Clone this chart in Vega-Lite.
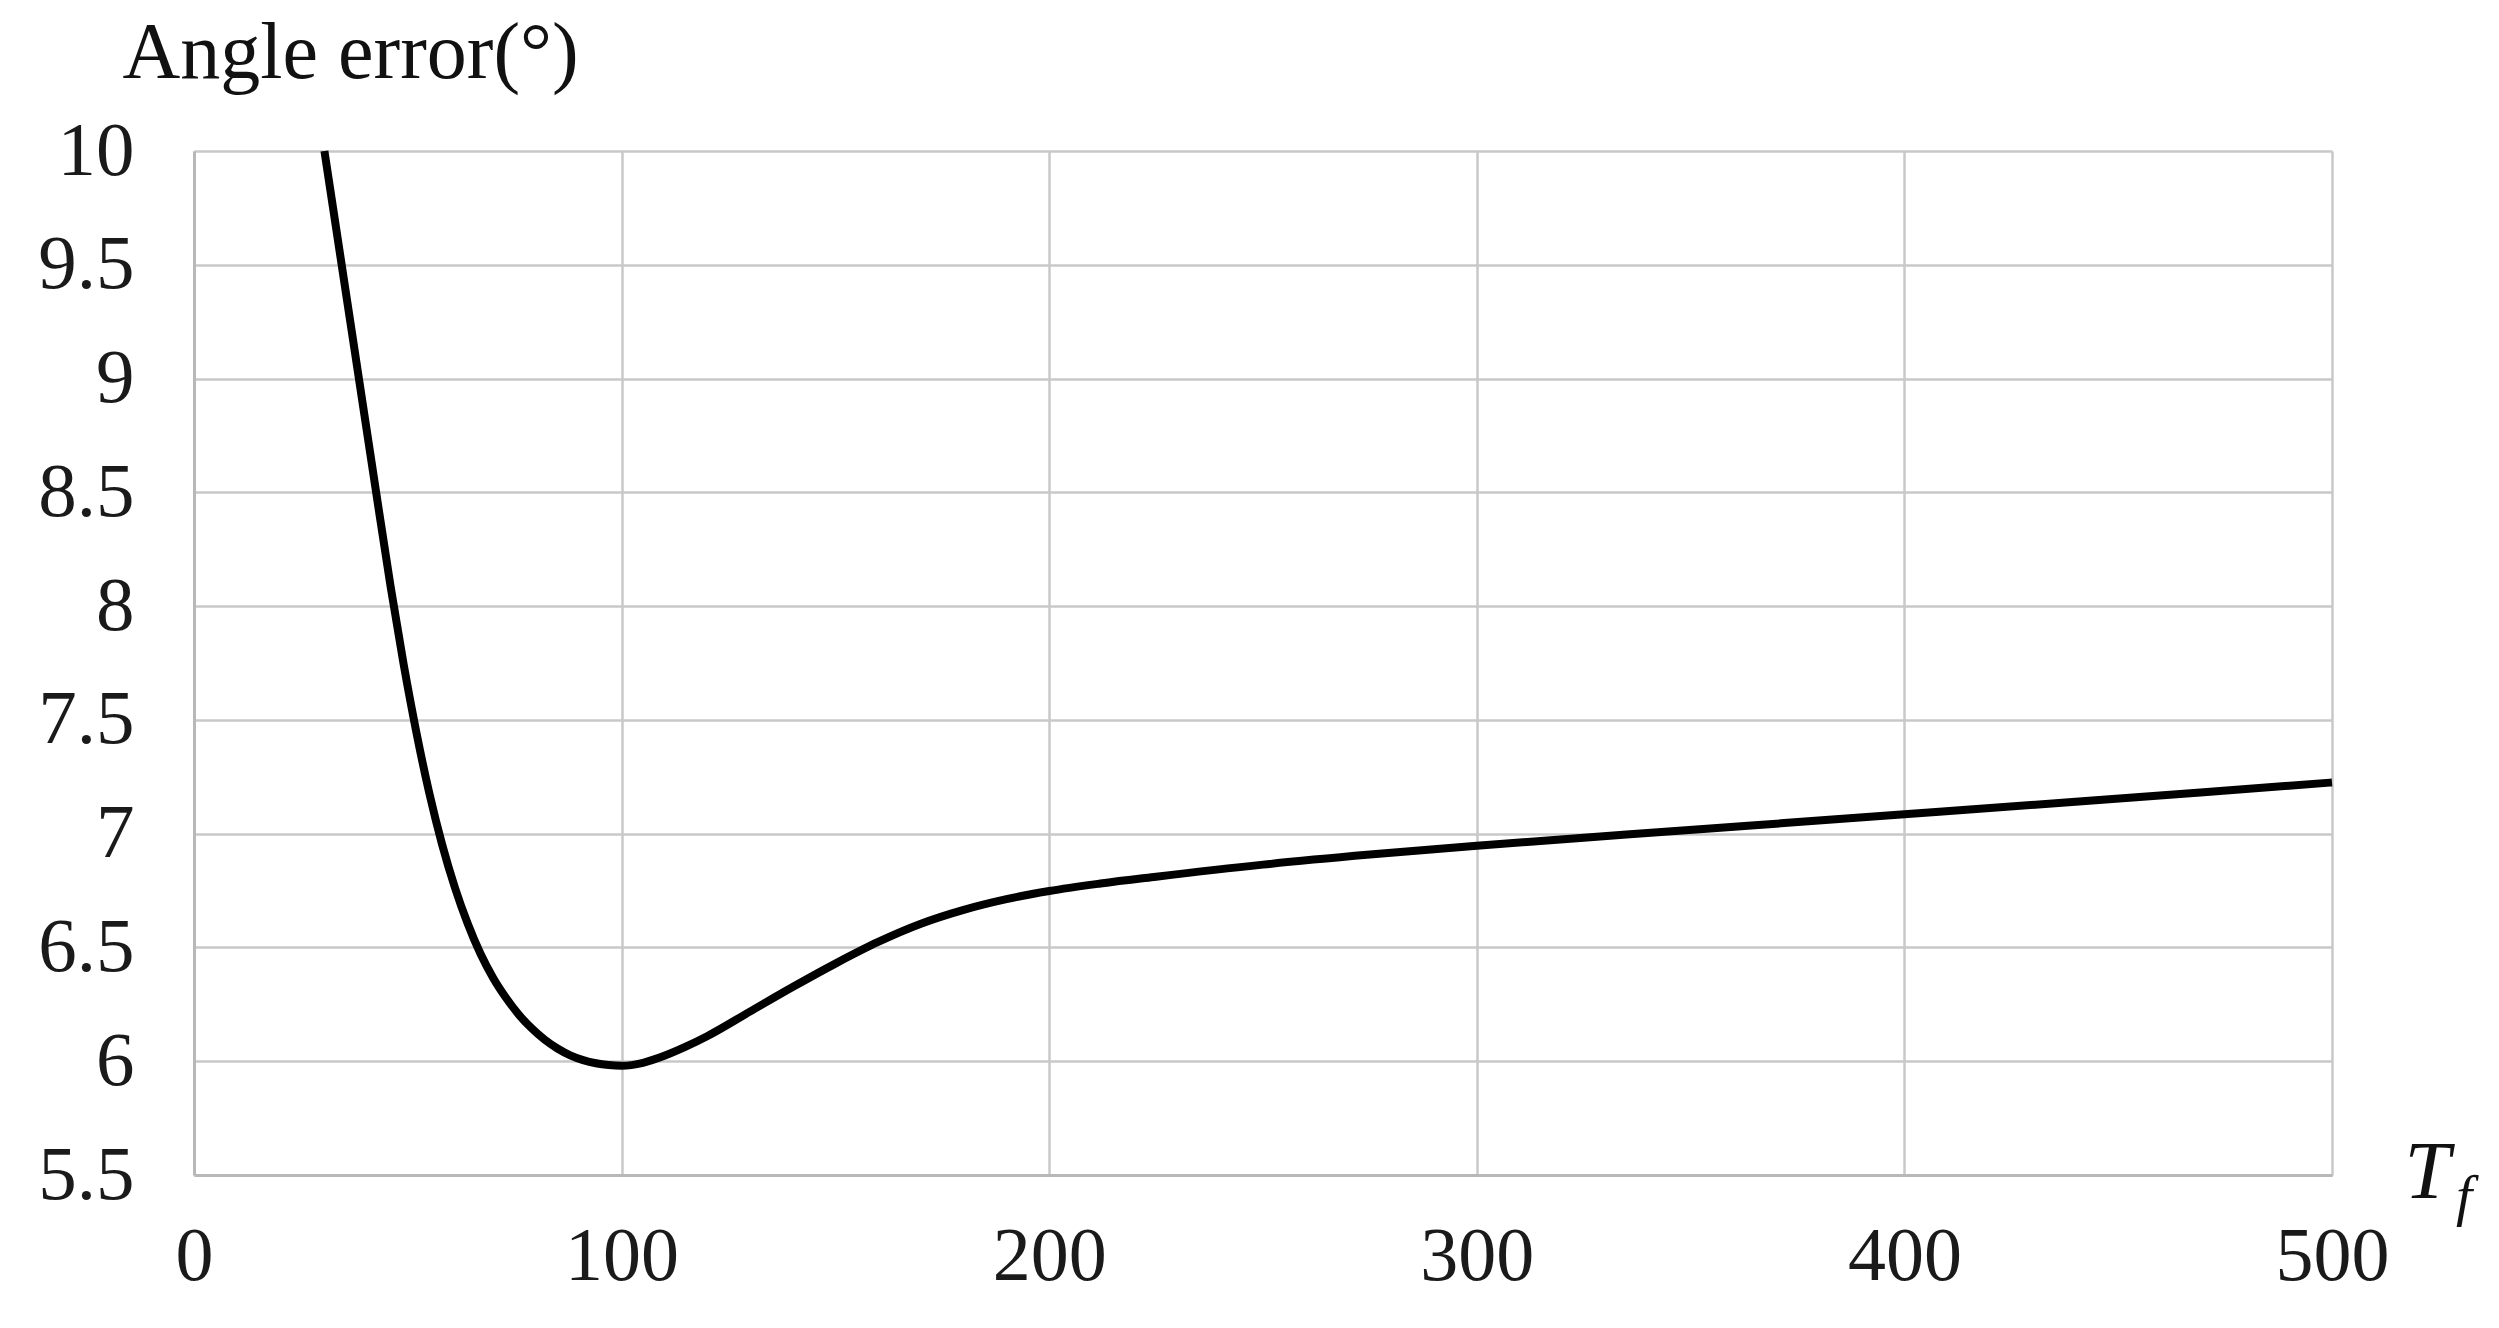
{
  "$schema": "https://vega.github.io/schema/vega-lite/v6.json",
  "autosize": {"type": "none"},
  "width": 2138,
  "height": 1024,
  "padding": {"left": 194, "top": 151, "right": 167, "bottom": 153},
  "background": "white",
  "config": {
    "view": {"stroke": null},
    "font": "Liberation Serif"
  },
  "layer": [
    {
      "data": {
        "values": [
          {"Tf": 30.5, "err": 10.0},
          {"Tf": 34.5, "err": 9.504},
          {"Tf": 38.5, "err": 9.008},
          {"Tf": 42.5, "err": 8.512},
          {"Tf": 46, "err": 8.083},
          {"Tf": 49, "err": 7.747},
          {"Tf": 52, "err": 7.446},
          {"Tf": 55, "err": 7.18},
          {"Tf": 58, "err": 6.954},
          {"Tf": 61, "err": 6.764},
          {"Tf": 64, "err": 6.605},
          {"Tf": 67, "err": 6.472},
          {"Tf": 70, "err": 6.365},
          {"Tf": 73, "err": 6.278},
          {"Tf": 76, "err": 6.204},
          {"Tf": 79, "err": 6.144},
          {"Tf": 82, "err": 6.095},
          {"Tf": 85, "err": 6.056},
          {"Tf": 88, "err": 6.026},
          {"Tf": 91, "err": 6.005},
          {"Tf": 94, "err": 5.991},
          {"Tf": 97, "err": 5.983},
          {"Tf": 100, "err": 5.98},
          {"Tf": 105, "err": 5.993},
          {"Tf": 110, "err": 6.024},
          {"Tf": 115, "err": 6.064},
          {"Tf": 120, "err": 6.11},
          {"Tf": 130, "err": 6.218},
          {"Tf": 140, "err": 6.326},
          {"Tf": 150, "err": 6.429},
          {"Tf": 160, "err": 6.524},
          {"Tf": 170, "err": 6.604},
          {"Tf": 180, "err": 6.665},
          {"Tf": 190, "err": 6.712},
          {"Tf": 200, "err": 6.748},
          {"Tf": 212, "err": 6.781},
          {"Tf": 225, "err": 6.811},
          {"Tf": 250, "err": 6.864},
          {"Tf": 275, "err": 6.908},
          {"Tf": 300, "err": 6.947},
          {"Tf": 335, "err": 6.996},
          {"Tf": 365, "err": 7.037},
          {"Tf": 400, "err": 7.085},
          {"Tf": 440, "err": 7.14},
          {"Tf": 470, "err": 7.182},
          {"Tf": 500, "err": 7.225}
        ]
      },
      "mark": {"type": "line", "color": "#000000", "strokeWidth": 8, "interpolate": "monotone", "strokeCap": "butt"},
      "encoding": {
        "x": {
          "field": "Tf", "type": "quantitative",
          "scale": {"domain": [0, 500], "nice": false, "zero": false},
          "axis": {
            "values": [0, 100, 200, 300, 400, 500],
            "title": "T",
            "titleFont": "Liberation Serif",
            "titleFontStyle": "italic",
            "titleFontWeight": "normal",
            "titleFontSize": 82,
            "titleColor": "#111111",
            "titleAlign": "left",
            "titleBaseline": "alphabetic",
            "titleAnchor": null,
            "titleX": 2210,
            "titleY": 22,
            "labelFont": "Liberation Serif",
            "labelFontSize": 76,
            "labelColor": "#1a1a1a",
            "labelPadding": 44,
            "labelFlush": false,
            "labelOverlap": false,
            "ticks": false,
            "tickSize": 0,
            "domain": true,
            "domainColor": "#b8b8b8",
            "domainWidth": 3,
            "grid": true,
            "gridColor": "#c8c8c8",
            "gridWidth": 2.5
          }
        },
        "y": {
          "field": "err", "type": "quantitative",
          "scale": {"domain": [5.5, 10], "nice": false, "zero": false},
          "axis": {
            "values": [5.5, 6, 6.5, 7, 7.5, 8, 8.5, 9, 9.5, 10],
            "format": "~g",
            "title": "Angle error(°)",
            "titleFont": "Liberation Serif",
            "titleFontWeight": "normal",
            "titleFontSize": 80,
            "titleColor": "#111111",
            "titleAngle": 0,
            "titleAlign": "left",
            "titleBaseline": "alphabetic",
            "titleAnchor": null,
            "titleX": -72,
            "titleY": -74,
            "labelFont": "Liberation Serif",
            "labelFontSize": 77,
            "labelColor": "#1a1a1a",
            "labelPadding": 60,
            "labelFlush": false,
            "labelOverlap": false,
            "ticks": false,
            "tickSize": 0,
            "domain": true,
            "domainColor": "#b8b8b8",
            "domainWidth": 3,
            "grid": true,
            "gridColor": "#c8c8c8",
            "gridWidth": 2.5
          }
        }
      }
    },
    {
      "data": {"values": [{"sub": "f"}]},
      "mark": {"type": "text", "font": "Liberation Serif", "fontStyle": "italic", "fontSize": 58, "color": "#111111", "align": "left", "baseline": "alphabetic", "dx": 124, "dy": 40},
      "encoding": {
        "text": {"field": "sub", "type": "nominal"},
        "x": {"datum": 500, "type": "quantitative"},
        "y": {"datum": 5.5, "type": "quantitative"}
      }
    }
  ]
}
